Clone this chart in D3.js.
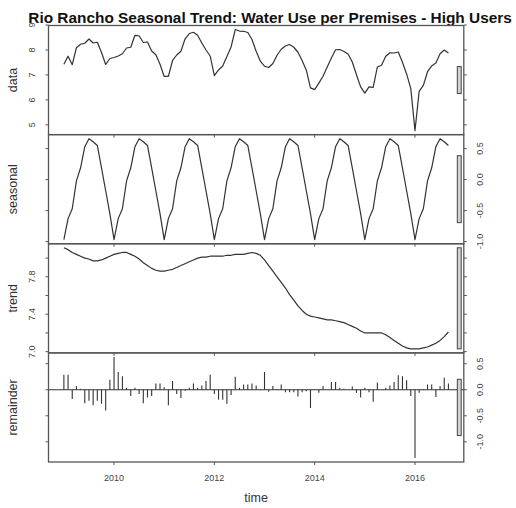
<!DOCTYPE html>
<html>
<head>
<meta charset="utf-8">
<script src="https://cdn.jsdelivr.net/npm/d3@7"></script>
<style>
  body { margin: 0; background: #fff; }
  svg { display: block; }
  text { font-family: "Liberation Sans", Arial, sans-serif; }
</style>
</head>
<body>
<svg id="chart" width="516" height="508"></svg>
<script>
// Monthly series, January 2009 to September 2016
const startYear = 2009;
const frequency = 12;

const dataValues = [
  7.43, 7.75, 7.41, 8.09, 8.23, 8.27, 8.44, 8.28, 8.31, 7.90, 7.42, 7.66,
  7.70, 7.76, 7.85, 8.08, 8.11, 8.59, 8.57, 8.30, 8.32, 7.96, 7.81, 7.43,
  6.94, 6.94, 7.58, 7.80, 7.95, 8.45, 8.66, 8.71, 8.59, 8.28, 8.00, 7.76,
  6.97, 7.20, 7.36, 7.74, 8.12, 8.82, 8.76, 8.75, 8.70, 8.42, 7.95, 7.55,
  7.35, 7.30, 7.46, 7.79, 8.03, 8.16, 8.22, 8.11, 7.91, 7.58, 7.19, 6.48,
  6.41, 6.67, 6.95, 7.32, 7.68, 8.01, 8.02, 7.94, 7.84, 7.52, 7.01, 6.52,
  6.27, 6.52, 6.50, 7.32, 7.39, 7.75, 7.89, 7.88, 7.92, 7.51, 7.04, 6.45,
  4.77, 6.34, 6.58, 7.13, 7.36, 7.48, 7.85, 8.00, 7.88
];

const seasonalValues = [
  -0.97, -0.63, -0.47, -0.02, 0.19, 0.53, 0.66, 0.61, 0.55, 0.19, -0.18, -0.55,
  -0.97, -0.63, -0.47, -0.02, 0.19, 0.53, 0.66, 0.61, 0.55, 0.19, -0.18, -0.55,
  -0.97, -0.63, -0.47, -0.02, 0.19, 0.53, 0.66, 0.61, 0.55, 0.19, -0.18, -0.55,
  -0.97, -0.63, -0.47, -0.02, 0.19, 0.53, 0.66, 0.61, 0.55, 0.19, -0.18, -0.55,
  -0.97, -0.63, -0.47, -0.02, 0.19, 0.53, 0.66, 0.61, 0.55, 0.19, -0.18, -0.55,
  -0.97, -0.63, -0.47, -0.02, 0.19, 0.53, 0.66, 0.61, 0.55, 0.19, -0.18, -0.55,
  -0.97, -0.63, -0.47, -0.02, 0.19, 0.53, 0.66, 0.61, 0.55, 0.19, -0.18, -0.55,
  -0.97, -0.63, -0.47, -0.02, 0.19, 0.53, 0.66, 0.61, 0.55
];

const trendValues = [
  8.11, 8.09, 8.06, 8.04, 8.02, 8.00, 7.99, 7.97, 7.97, 7.98, 8.00, 8.02,
  8.04, 8.05, 8.06, 8.06, 8.04, 8.02, 7.99, 7.95, 7.92, 7.89, 7.87, 7.86,
  7.86, 7.87, 7.88, 7.90, 7.92, 7.94, 7.96, 7.98, 8.00, 8.01, 8.01, 8.02,
  8.02, 8.02, 8.02, 8.03, 8.03, 8.04, 8.04, 8.04, 8.05, 8.06, 8.05, 8.03,
  7.98, 7.92, 7.86, 7.80, 7.74, 7.68, 7.61, 7.55, 7.49, 7.44, 7.40, 7.38,
  7.37, 7.36, 7.35, 7.34, 7.34, 7.33, 7.32, 7.31, 7.29, 7.27, 7.25, 7.22,
  7.20, 7.20, 7.20, 7.20, 7.20, 7.18, 7.15, 7.12, 7.09, 7.06, 7.04, 7.03,
  7.03, 7.03, 7.04, 7.05, 7.07, 7.09, 7.12, 7.16, 7.21
];

const remainderValues = [
  0.29, 0.29, -0.18, 0.07, 0.02, -0.26, -0.21, -0.30, -0.21, -0.27, -0.40, 0.19,
  0.63, 0.34, 0.26, 0.04, -0.12, 0.04, -0.08, -0.26, -0.15, -0.12, 0.12, 0.12,
  0.05, -0.30, 0.17, -0.08, -0.16, -0.02, 0.04, 0.12, 0.04, 0.08, 0.17, 0.29,
  -0.08, -0.19, -0.19, -0.27, -0.10, 0.25, 0.04, 0.10, 0.10, 0.12, 0.08, 0.01,
  0.34, -0.04, 0.07, 0.01, 0.10, -0.05, -0.05, -0.05, -0.13, -0.05, -0.03, -0.35,
  0.01, -0.06, 0.07, 0.00, 0.15, 0.15, 0.04, 0.02, 0.00, 0.06, -0.06, -0.15,
  0.04, -0.05, -0.23, 0.14, 0.00, 0.04, 0.08, 0.15, 0.28, 0.26, 0.18, -0.12,
  -1.31, -0.06, 0.01, 0.10, 0.10, -0.14, 0.07, 0.23, 0.12
];

const yearTicks = [2010, 2012, 2014, 2016];
const dataTicks = [5, 6, 7, 8, 9];
const seasonalTicks = [-1.0, -0.5, 0.0, 0.5];
const trendTicks = [7.0, 7.2, 7.4, 7.6, 7.8, 8.0];
const trendTickLabels = [7.0, 7.4, 7.8];
const remainderTicks = [-1.0, -0.5, 0.0, 0.5];

const titleText = "Rio Rancho Seasonal Trend: Water Use per Premises - High Users";

const panels = [
  { name: "data", values: dataValues, ticks: dataTicks, labelled: dataTicks, fmt: v => String(v), side: "left", kind: "line" },
  { name: "seasonal", values: seasonalValues, ticks: seasonalTicks, labelled: seasonalTicks, fmt: v => v.toFixed(1), side: "right", kind: "line" },
  { name: "trend", values: trendValues, ticks: trendTicks, labelled: trendTickLabels, fmt: v => v.toFixed(1), side: "left", kind: "line" },
  { name: "remainder", values: remainderValues, ticks: remainderTicks, labelled: remainderTicks, fmt: v => v.toFixed(1), side: "right", kind: "hist" }
];

const svg = d3.select("#chart");
const ink = "#333";
const frame = "#555";

const plotLeft = 48.5, plotRight = 463.8;
const plotTop = 25.5, plotBottom = 462;
const panelH = (plotBottom - plotTop) / panels.length;

const times = dataValues.map((_, i) => startYear + i / frequency);
const tExt = d3.extent(times);
const tPad = 0.04 * (tExt[1] - tExt[0]);
const x = d3.scaleLinear().domain([tExt[0] - tPad, tExt[1] + tPad]).range([plotLeft, plotRight]);

// smallest component range, shown as a bar of equal data length on every panel
const minRange = d3.min(panels, p => { const e = d3.extent(p.values); return e[1] - e[0]; });

svg.append("text")
  .attr("x", 28.3).attr("y", 22.6)
  .attr("font-size", 15.4).attr("font-weight", "bold").attr("fill", "#111")
  .text(titleText);

panels.forEach((p, k) => {
  const y0 = plotTop + k * panelH, y1 = y0 + panelH;
  const ext = d3.extent(p.values);
  const pad = 0.04 * (ext[1] - ext[0]);
  const y = d3.scaleLinear().domain([ext[0] - pad, ext[1] + pad]).range([y1, y0]);
  const g = svg.append("g");

  if (p.kind === "line") {
    g.append("path")
      .datum(p.values)
      .attr("fill", "none").attr("stroke", ink).attr("stroke-width", 1.2)
      .attr("stroke-linejoin", "round")
      .attr("d", d3.line().x((d, i) => x(times[i])).y(d => y(d)));
  } else {
    g.append("line")
      .attr("x1", plotLeft).attr("x2", plotRight)
      .attr("y1", y(0)).attr("y2", y(0))
      .attr("stroke", ink).attr("stroke-width", 1.1);
    g.selectAll("line.bar").data(p.values).enter().append("line")
      .attr("class", "bar")
      .attr("x1", (d, i) => x(times[i])).attr("x2", (d, i) => x(times[i]))
      .attr("y1", y(0)).attr("y2", d => y(d))
      .attr("stroke", ink).attr("stroke-width", 1.1);
  }

  // range bar near the right edge
  const mid = (ext[0] + ext[1]) / 2;
  const dx = (plotRight - plotLeft) / 64;
  g.append("rect")
    .attr("x", plotRight - dx).attr("width", 0.6 * dx)
    .attr("y", y(mid + minRange / 2))
    .attr("height", y(mid - minRange / 2) - y(mid + minRange / 2))
    .attr("fill", "#d3d3d3").attr("stroke", "#444").attr("stroke-width", 1);

  // frame
  g.append("rect")
    .attr("x", plotLeft).attr("y", y0)
    .attr("width", plotRight - plotLeft).attr("height", panelH)
    .attr("fill", "none").attr("stroke", frame).attr("stroke-width", 1.3);

  // y ticks on both sides, labels on one
  const tickLen = 3;
  [["left", plotLeft, -1], ["right", plotRight, 1]].forEach(([side, xe, dir]) => {
    g.selectAll(null).data(p.ticks).enter().append("line")
      .attr("x1", xe).attr("x2", xe + dir * tickLen)
      .attr("y1", d => y(d)).attr("y2", d => y(d))
      .attr("stroke", frame).attr("stroke-width", 1);
    if (side === p.side) {
      const lx = xe + dir * 16.5;
      g.selectAll(null).data(p.labelled).enter().append("text")
        .attr("transform", d => `translate(${lx},${y(d)}) rotate(-90)`)
        .attr("text-anchor", "middle").attr("dominant-baseline", "central")
        .attr("font-size", 9).attr("fill", "#444")
        .text(p.fmt);
    }
  });

  // x ticks at the bottom of each panel
  g.selectAll(null).data(yearTicks).enter().append("line")
    .attr("x1", d => x(d)).attr("x2", d => x(d))
    .attr("y1", y1).attr("y2", y1 + 3)
    .attr("stroke", frame).attr("stroke-width", 1);

  // component name
  svg.append("text")
    .attr("transform", `translate(13,${(y0 + y1) / 2}) rotate(-90)`)
    .attr("text-anchor", "middle").attr("dominant-baseline", "central")
    .attr("font-size", 12.5).attr("fill", "#333")
    .text(p.name);
});

// year labels and axis title
svg.selectAll("text.year").data(yearTicks).enter().append("text")
  .attr("class", "year")
  .attr("x", d => x(d)).attr("y", 481)
  .attr("text-anchor", "middle").attr("font-size", 9).attr("fill", "#444")
  .text(d => d);

svg.append("text")
  .attr("x", (plotLeft + plotRight) / 2).attr("y", 501.5)
  .attr("text-anchor", "middle").attr("font-size", 12.5).attr("fill", "#333")
  .text("time");
</script>
</body>
</html>
